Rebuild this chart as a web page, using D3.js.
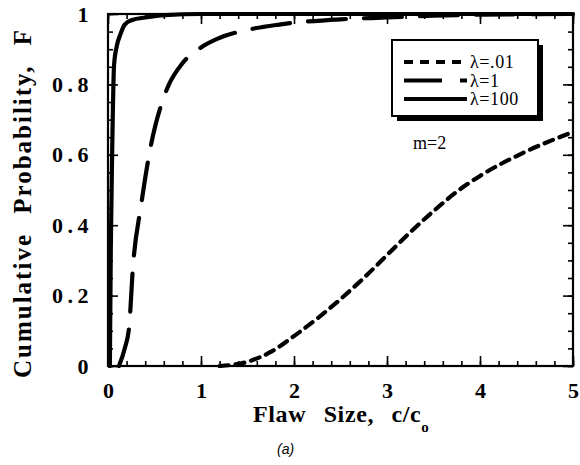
<!DOCTYPE html>
<html>
<head>
<meta charset="utf-8">
<script src="https://cdn.jsdelivr.net/npm/d3@7"></script>
<style>
  html, body { margin: 0; padding: 0; background: #fff; }
  svg { display: block; }
  .tick text { font-family: "Liberation Serif", "Times New Roman", serif; font-weight: bold; font-size: 22px; fill: #000; }
</style>
</head>
<body>
<svg id="chart" width="580" height="465"></svg>
<script>
// Flaw-size distribution, m = 2, for three values of lambda
const lambda001C = [1.2, 1.5, 1.75, 2.0, 2.25, 2.5, 2.75, 3.0, 3.25, 3.5, 3.75, 4.0, 4.5, 5.0];
const lambda001F = [0.0, 0.012, 0.04, 0.085, 0.135, 0.19, 0.25, 0.315, 0.38, 0.44, 0.495, 0.54, 0.61, 0.665];

const lambda1C = [0.118, 0.18, 0.226, 0.269, 0.355, 0.46, 0.59, 0.656, 0.80, 1.0, 1.18, 1.5, 1.84, 2.5, 3.0, 3.5, 4.0, 5.0];
const lambda1F = [0.0, 0.05, 0.108, 0.284, 0.455, 0.625, 0.756, 0.80, 0.86, 0.905, 0.93, 0.955, 0.97, 0.985, 0.99, 0.995, 0.998, 1.0];

const lambda100C = [0.02, 0.03, 0.045, 0.065, 0.097, 0.13, 0.18, 0.26, 0.40, 0.61, 1.0, 5.0];
const lambda100F = [0.0, 0.33, 0.61, 0.855, 0.912, 0.94, 0.97, 0.983, 0.99, 0.997, 1.0, 1.0];

const xTicks = [0, 1, 2, 3, 4, 5];
const yTicks = [0, 0.2, 0.4, 0.6, 0.8, 1];
const yTickLabels = ["0", "0.2", "0.4", "0.6", "0.8", "1"];
const seriesNames = ["\u03bb=.01", "\u03bb=1", "\u03bb=100"];

const svg = d3.select("#chart");
const plotL = 108, plotR = 573, plotT = 14, plotB = 366;
const serif = "Liberation Serif, Times New Roman, serif";

const x = d3.scaleLinear().domain([0, 5]).range([plotL, plotR]);
const y = d3.scaleLinear().domain([0, 1]).range([plotB, plotT]);

svg.append("clipPath").attr("id", "plotClip")
  .append("rect").attr("x", plotL - 2).attr("y", plotT - 3).attr("width", plotR - plotL + 4).attr("height", plotB - plotT + 5);

// minor ticks (inside, all four sides)
const xMinor = d3.range(0, 5.001, 0.2);
const yMinor = d3.range(0, 1.001, 0.05);
function styleAxis(g) {
  g.select(".domain").remove();
  g.selectAll(".tick line").attr("stroke", "#000").attr("stroke-width", 1.6);
}
svg.append("g").attr("transform", `translate(0,${plotB})`)
  .call(d3.axisBottom(x).tickValues(xMinor).tickSize(-5).tickFormat("")).call(styleAxis);
svg.append("g").attr("transform", `translate(0,${plotT})`)
  .call(d3.axisTop(x).tickValues(xMinor).tickSize(-5).tickFormat("")).call(styleAxis);
svg.append("g").attr("transform", `translate(${plotL},0)`)
  .call(d3.axisLeft(y).tickValues(yMinor).tickSize(-5).tickFormat("")).call(styleAxis);
svg.append("g").attr("transform", `translate(${plotR},0)`)
  .call(d3.axisRight(y).tickValues(yMinor).tickSize(-5).tickFormat("")).call(styleAxis);

// major ticks with labels
svg.append("g").attr("transform", `translate(0,${plotB})`)
  .call(d3.axisBottom(x).tickValues(xTicks).tickSize(-10).tickPadding(16).tickFormat(d => String(d)))
  .call(styleAxis);
svg.append("g").attr("transform", `translate(0,${plotT})`)
  .call(d3.axisTop(x).tickValues(xTicks).tickSize(-10).tickFormat("")).call(styleAxis);
svg.append("g").attr("transform", `translate(${plotL},0)`)
  .call(d3.axisLeft(y).tickValues(yTicks).tickSize(-10).tickPadding(15).tickFormat((d, i) => yTickLabels[i]))
  .call(styleAxis)
  .selectAll(".tick text").attr("letter-spacing", "4.5px");
svg.append("g").attr("transform", `translate(${plotR},0)`)
  .call(d3.axisRight(y).tickValues(yTicks).tickSize(-10).tickFormat("")).call(styleAxis);

// frame
svg.append("rect").attr("x", plotL).attr("y", plotT).attr("width", plotR - plotL).attr("height", plotB - plotT)
  .attr("fill", "none").attr("stroke", "#000").attr("stroke-width", 2.2);

// curves
const line = d3.line().x(d => x(d[0])).y(d => y(d[1])).curve(d3.curveMonotoneX);
const curves = [
  { c: lambda001C, f: lambda001F, dash: "9,7" },
  { c: lambda1C, f: lambda1F, dash: "38,18" },
  { c: lambda100C, f: lambda100F, dash: null }
];
const plot = svg.append("g").attr("clip-path", "url(#plotClip)");
curves.forEach(s => {
  plot.append("path")
    .datum(s.c.map((c, i) => [c, s.f[i]]))
    .attr("d", line)
    .attr("fill", "none")
    .attr("stroke", "#000")
    .attr("stroke-width", 4.2)
    .attr("stroke-linecap", "round")
    .attr("stroke-dasharray", s.dash);
});

// legend with drop shadow
const lg = svg.append("g");
lg.append("rect").attr("x", 397).attr("y", 45).attr("width", 146).attr("height", 76).attr("fill", "#000");
lg.append("rect").attr("x", 392).attr("y", 40).attr("width", 146).attr("height", 76)
  .attr("fill", "#fff").attr("stroke", "#000").attr("stroke-width", 2);
const legendRows = [62, 80.5, 99];
curves.forEach((s, i) => {
  lg.append("line").attr("x1", 404).attr("x2", 467).attr("y1", legendRows[i]).attr("y2", legendRows[i])
    .attr("stroke", "#000").attr("stroke-width", 4)
    .attr("stroke-dasharray", s.dash);
  lg.append("text").attr("x", 470).attr("y", legendRows[i] + 6)
    .attr("font-family", serif).attr("font-size", 18).attr("letter-spacing", "0.6px")
    .text(seriesNames[i]);
});

svg.append("text").attr("x", 413).attr("y", 149)
  .attr("font-family", serif).attr("font-size", 18)
  .text("m=2");

// axis titles
const xt = svg.append("text").attr("x", 253).attr("y", 422)
  .attr("font-family", serif).attr("font-weight", "bold")
  .attr("font-size", 24).attr("word-spacing", "11px").attr("letter-spacing", "0.6px");
xt.append("tspan").text("Flaw Size, c/c");
xt.append("tspan").attr("dy", 10).attr("font-size", 15).text("o");

svg.append("text")
  .attr("transform", "translate(31,203) rotate(-90)")
  .attr("text-anchor", "middle")
  .attr("font-family", serif).attr("font-weight", "bold")
  .attr("font-size", 25).attr("word-spacing", "11px").attr("letter-spacing", "2px")
  .text("Cumulative Probability, F");

svg.append("text").attr("x", 277).attr("y", 454)
  .attr("font-family", "Liberation Sans, Arial, sans-serif").attr("font-style", "italic")
  .attr("font-size", 14)
  .text("(a)");
</script>
</body>
</html>
